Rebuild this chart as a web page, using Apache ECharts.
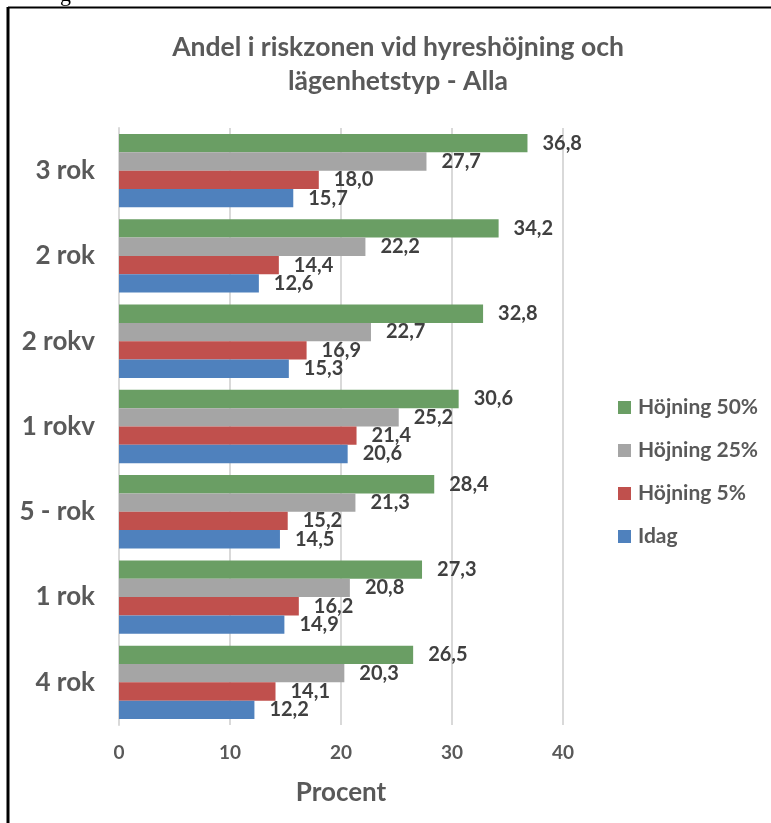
<!DOCTYPE html>
<html>
<head>
<meta charset="utf-8">
<script src="https://cdn.jsdelivr.net/npm/echarts@6/dist/echarts.min.js"></script>
<style>
html,body{margin:0;padding:0;background:#fff;}
#chart{width:771px;height:823px;}
</style>
</head>
<body>
<div id="chart"></div>
<script>
// Categories listed bottom-to-top (ECharts category axis order)
const categories = ['4 rok', '1 rok', '5 - rok', '1 rokv', '2 rokv', '2 rok', '3 rok'];
const idag = [12.2, 14.9, 14.5, 20.6, 15.3, 12.6, 15.7];
const hojning5 = [14.1, 16.2, 15.2, 21.4, 16.9, 14.4, 18.0];
const hojning25 = [20.3, 20.8, 21.3, 25.2, 22.7, 22.2, 27.7];
const hojning50 = [26.5, 27.3, 28.4, 30.6, 32.8, 34.2, 36.8];
// series drawn top-to-bottom within each group
const seriesNames = ['Höjning 50%', 'Höjning 25%', 'Höjning 5%', 'Idag'];
const colors = ['#6a9e64', '#a5a5a5', '#c0504d', '#4f81bd'];
const titleText = 'Andel i riskzonen vid hyreshöjning och\nlägenhetstyp - Alla';
const axisName = 'Procent';

const FONT = 'Lato, "Open Sans", sans-serif';
const chart = echarts.init(document.getElementById('chart'), null, {renderer: 'canvas'});

const dataSets = [hojning50, hojning25, hojning5, idag];
const series = seriesNames.map((n, i) => ({
  name: n,
  type: 'bar',
  data: dataSets[i],
  barGap: '0%',
  barCategoryGap: '14%',
  itemStyle: {color: colors[i]},
  label: {
    show: true,
    position: 'right',
    distance: 15,
    formatter: p => p.value.toFixed(1).replace('.', ','),
    fontFamily: FONT,
    fontWeight: 'bold',
    fontSize: 20,
    color: '#404040'
  }
}));

chart.setOption({
  animation: false,
  backgroundColor: '#ffffff',
  title: {
    text: titleText,
    left: 393,
    textAlign: 'center',
    top: 25,
    textStyle: {
      fontFamily: FONT,
      fontWeight: 'bold',
      fontSize: 26.5,
      color: '#595959',
      lineHeight: 34
    }
  },
  legend: {
    orient: 'vertical',
    left: 613,
    top: 392,
    data: seriesNames,
    itemWidth: 13,
    itemHeight: 13,
    itemGap: 22,
    icon: 'rect',
    textStyle: {
      fontFamily: FONT,
      fontWeight: 'bold',
      fontSize: 21,
      color: '#595959',
      padding: [0, 0, 0, 2]
    }
  },
  grid: {
    left: 119,
    top: 128,
    width: 444,
    height: 597,
    containLabel: false
  },
  xAxis: {
    type: 'value',
    min: 0,
    max: 40,
    interval: 10,
    name: axisName,
    nameLocation: 'middle',
    nameGap: 55,
    nameTextStyle: {
      fontFamily: FONT,
      fontWeight: 'bold',
      fontSize: 26,
      color: '#595959'
    },
    axisLine: {show: false},
    axisTick: {show: false},
    axisLabel: {
      margin: 18,
      fontFamily: FONT,
      fontWeight: 'bold',
      fontSize: 19,
      color: '#595959'
    },
    splitLine: {show: true, lineStyle: {color: '#d9d9d9', width: 2}}
  },
  yAxis: {
    type: 'category',
    data: categories,
    axisLine: {show: true, lineStyle: {color: '#d9d9d9', width: 2}},
    axisTick: {show: false},
    axisLabel: {
      margin: 24,
      fontFamily: FONT,
      fontWeight: 'bold',
      fontSize: 26,
      color: '#595959'
    }
  },
  graphic: [
    {type: 'line', shape: {x1: 8, y1: 7.5, x2: 771, y2: 7.5}, style: {stroke: '#000', lineWidth: 2}},
    {type: 'line', shape: {x1: 8, y1: 7, x2: 8, y2: 823}, style: {stroke: '#000', lineWidth: 3}},
    {type: 'text', left: 60, top: -16, style: {text: 'g', font: '22px "Liberation Serif", serif', fill: '#000'}}
  ],
  series: series
});
</script>
</body>
</html>
